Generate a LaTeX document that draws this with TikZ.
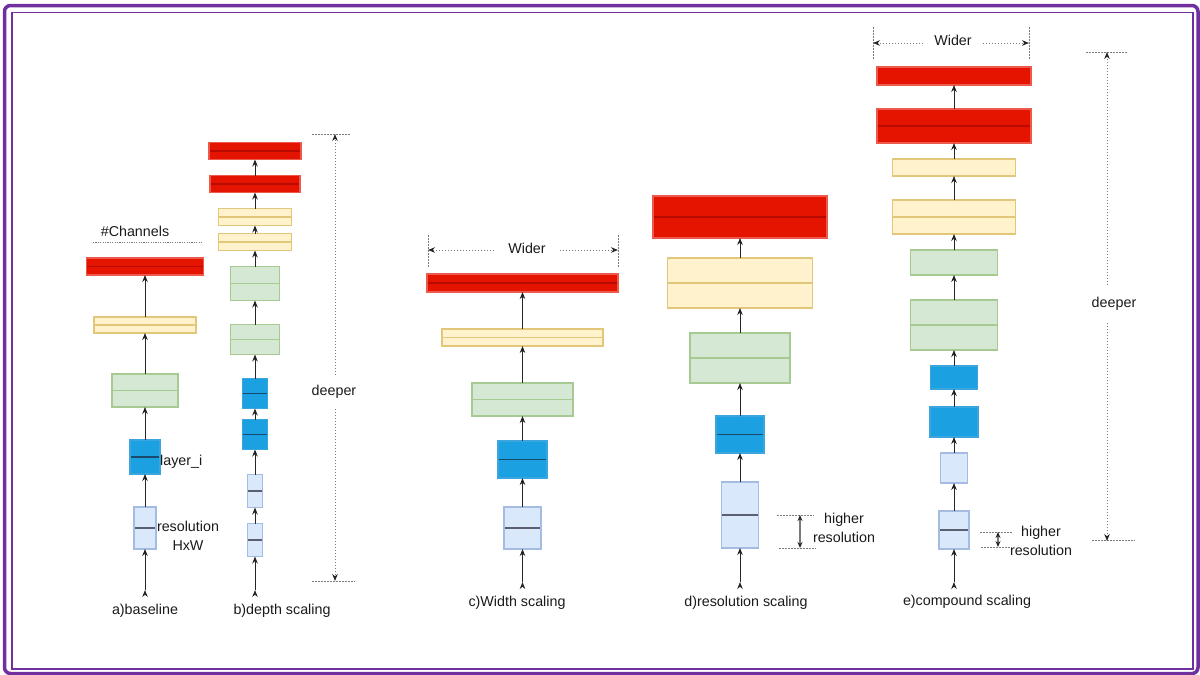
\documentclass[tikz,border=0pt]{standalone}
\usepackage{fontspec}
\setmainfont{Liberation Sans}
\usetikzlibrary{arrows.meta,positioning}

\definecolor{frame}{HTML}{7030A0}
\definecolor{redfill}{HTML}{E51400}
\definecolor{redline}{HTML}{EC5A4C}
\definecolor{reddark}{HTML}{B80A00}
\definecolor{ylwfill}{HTML}{FFF2CC}
\definecolor{ylwline}{HTML}{E2C77A}
\definecolor{grnfill}{HTML}{D5E8D4}
\definecolor{grnline}{HTML}{A6CA92}
\definecolor{bluefill}{HTML}{1BA1E2}
\definecolor{blueline}{HTML}{3BA6DE}
\definecolor{bluemid}{HTML}{1A4A6A}
\definecolor{resfill}{HTML}{DAE8FC}
\definecolor{resline}{HTML}{A4BCE2}
\definecolor{resmid}{HTML}{5A6070}
\definecolor{arrgray}{HTML}{262626}
\definecolor{guidegray}{HTML}{7A7A7A}
\definecolor{txt}{HTML}{1A1A1A}

\begin{document}
\begin{tikzpicture}[x=1pt,y=-1pt,font=\fontsize{14.3}{19}\selectfont,>={Stealth[length=7pt,width=5.5pt]}]
  \tikzstyle{box}=[rectangle,inner sep=0pt,outer sep=0pt,line width=1.2pt]
  \tikzstyle{redbox}=[box,fill=redfill,draw=redline]
  \tikzstyle{ylwbox}=[box,fill=ylwfill,draw=ylwline]
  \tikzstyle{grnbox}=[box,fill=grnfill,draw=grnline]
  \tikzstyle{bluebox}=[box,fill=bluefill,draw=blueline]
  \tikzstyle{resbox}=[box,fill=resfill,draw=resline]
  \tikzset{cut/.style={path picture={\draw[#1,line width=1.2pt] (path picture bounding box.west) -- (path picture bounding box.east);}}}
  \tikzstyle{arr}=[->,draw=arrgray,line width=0.8pt]
  \tikzstyle{guide}=[draw=guidegray,line width=0.9pt,dash pattern=on 1.5pt off 1.5pt]
  \tikzstyle{garr}=[guide,-{Stealth[length=7pt,width=5.5pt,color=arrgray]}]
  \tikzstyle{twoway}=[draw=guidegray,{Stealth[length=6pt,width=5pt,color=arrgray]}-{Stealth[length=6pt,width=5pt,color=arrgray]}]
  \tikzstyle{lbl}=[inner sep=0pt,text=txt]

  \useasboundingbox (0,0) rectangle (1200,675);
  \draw[draw=frame,line width=3.5pt,rounded corners=6pt] (4.5,5.5) rectangle (1198,673.5);
  \draw[draw=frame,line width=1.5pt] (12,12.5) rectangle (1193,669);

  % a) baseline
  \begin{scope}
    \coordinate (a0) at (145,590);
    \node[resbox,cut=resmid,minimum width=22pt,minimum height=42pt] (a1) at (145,528) {};
    \node[bluebox,cut=bluemid,minimum width=30pt,minimum height=34pt,above=33pt of a1] (a2) {};
    \node[grnbox,cut=grnline,minimum width=66pt,minimum height=33pt,above=33pt of a2] (a3) {};
    \node[ylwbox,cut=ylwline,minimum width=102pt,minimum height=16pt,above=41pt of a3] (a4) {};
    \node[redbox,cut=reddark,minimum width=117pt,minimum height=17pt,above=42pt of a4] (a5) {};

    \node[lbl] (chn) at (135,231) {\#Channels};
    \draw[guide,line width=0.7pt,dash pattern=on 1.2pt off 1.2pt] (93,242) -- (202,242);
    \node[lbl,anchor=west] (lyr) at (160,462) {layer\_i};
    \node[lbl,align=center] (res) at (188,536) {resolution\\HxW};
    \node[lbl] (acap) at (145,611) {a)baseline};

    \path[arr]
    (a0) edge (a1)
    (a1) edge (a2)
    (a2) edge (a3)
    (a3) edge (a4)
    (a4) edge (a5);
  \end{scope}

  % b) depth scaling
  \begin{scope}
    \coordinate (b0) at (255,590);
    \node[resbox,cut=resmid,minimum width=15pt,minimum height=33pt] (b1) at (255,540) {};
    \node[resbox,cut=resmid,minimum width=15pt,minimum height=33pt,above=16pt of b1] (b2) {};
    \node[bluebox,cut=bluemid,minimum width=25pt,minimum height=30pt,above=25pt of b2] (b3) {};
    \node[bluebox,cut=bluemid,minimum width=25pt,minimum height=30pt,above=11pt of b3] (b4) {};
    \node[grnbox,cut=grnline,minimum width=49pt,minimum height=30pt,above=24pt of b4] (b5) {};
    \node[grnbox,cut=grnline,minimum width=49pt,minimum height=34pt,above=24pt of b5] (b6) {};
    \node[ylwbox,cut=ylwline,minimum width=73pt,minimum height=17pt,above=16pt of b6] (b7) {};
    \node[ylwbox,cut=ylwline,minimum width=73pt,minimum height=17pt,above=8pt of b7] (b8) {};
    \node[redbox,cut=reddark,minimum width=90pt,minimum height=17pt,above=16pt of b8] (b9) {};
    \node[redbox,cut=reddark,minimum width=92pt,minimum height=17pt,above=16pt of b9] (b10) {};

    \node[lbl,inner ysep=10pt] (bdeep) at (334,392) {deeper};
    \coordinate (btop) at (335,134);
    \coordinate (bbot) at (335,581);
    \draw[guide] (312,134) -- (350,134);
    \draw[guide] (312,581) -- (355,581);
    \draw[garr] (bdeep.north -| btop) -- (btop);
    \draw[garr] (bdeep.south -| bbot) -- (bbot);
    \node[lbl] (bcap) at (282,611) {b)depth scaling};

    \path[arr]
    (b0) edge (b1)
    (b1) edge (b2)
    (b2) edge (b3)
    (b3) edge (b4)
    (b4) edge (b5)
    (b5) edge (b6)
    (b6) edge (b7)
    (b7) edge (b8)
    (b8) edge (b9)
    (b9) edge (b10);
  \end{scope}

  % c) width scaling
  \begin{scope}
    \coordinate (c0) at (522.5,582);
    \node[resbox,cut=resmid,minimum width=37pt,minimum height=42pt] (c1) at (522.5,528) {};
    \node[bluebox,cut=bluemid,minimum width=49pt,minimum height=37pt,above=29pt of c1] (c2) {};
    \node[grnbox,cut=grnline,minimum width=101pt,minimum height=33pt,above=25pt of c2] (c3) {};
    \node[ylwbox,cut=ylwline,minimum width=161pt,minimum height=17pt,above=37pt of c3] (c4) {};
    \node[redbox,cut=reddark,minimum width=191pt,minimum height=18pt,above=37pt of c4] (c5) {};

    \node[lbl,inner xsep=14pt] (cwid) at (527,248) {Wider};
    \coordinate (cwl) at (428,250);
    \coordinate (cwr) at (618,250);
    \draw[guide] (428,235) -- (428,267);
    \draw[guide] (618,235) -- (618,267);
    \draw[garr] (cwid.west |- cwl) -- (cwl);
    \draw[garr] (cwid.east |- cwr) -- (cwr);
    \node[lbl] (ccap) at (517,603) {c)Width scaling};

    \path[arr]
    (c0) edge (c1)
    (c1) edge (c2)
    (c2) edge (c3)
    (c3) edge (c4)
    (c4) edge (c5);
  \end{scope}

  % d) resolution scaling
  \begin{scope}
    \coordinate (d0) at (740,582);
    \node[resbox,cut=resmid,minimum width=37pt,minimum height=66pt] (d1) at (740,515) {};
    \node[bluebox,cut=bluemid,minimum width=48pt,minimum height=37pt,above=29pt of d1] (d2) {};
    \node[grnbox,cut=grnline,minimum width=100pt,minimum height=50pt,above=33pt of d2] (d3) {};
    \node[ylwbox,cut=ylwline,minimum width=145pt,minimum height=50pt,above=25pt of d3] (d4) {};
    \node[redbox,cut=reddark,minimum width=174pt,minimum height=42pt,above=20pt of d4] (d5) {};

    \coordinate (dhi) at (800,515);
    \coordinate (dlo) at (800,548);
    \draw[guide] (777,515) -- (814,515);
    \draw[guide] (779,548) -- (816,548);
    \draw[twoway,line width=1.6pt] (dhi) -- (dlo);
    \node[lbl,align=center] (dhr) at (844,528) {higher\\resolution};
    \node[lbl] (dcap) at (746,603) {d)resolution scaling};

    \path[arr]
    (d0) edge (d1)
    (d1) edge (d2)
    (d2) edge (d3)
    (d3) edge (d4)
    (d4) edge (d5);
  \end{scope}

  % e) compound scaling
  \begin{scope}
    \coordinate (e0) at (954,582);
    \node[resbox,cut=resmid,minimum width=30pt,minimum height=38pt] (e1) at (954,530) {};
    \node[resbox,minimum width=27pt,minimum height=30pt,above=28pt of e1] (e2) {};
    \node[bluebox,minimum width=48pt,minimum height=30pt,above=16pt of e2] (e3) {};
    \node[bluebox,minimum width=47pt,minimum height=23pt,above=18pt of e3] (e4) {};
    \node[grnbox,cut=grnline,minimum width=87pt,minimum height=50pt,above=16pt of e4] (e5) {};
    \node[grnbox,minimum width=87pt,minimum height=25pt,above=25pt of e5] (e6) {};
    \node[ylwbox,cut=ylwline,minimum width=123pt,minimum height=34pt,above=16pt of e6] (e7) {};
    \node[ylwbox,minimum width=123pt,minimum height=17pt,above=24pt of e7] (e8) {};
    \node[redbox,cut=reddark,minimum width=154pt,minimum height=34pt,above=16pt of e8] (e9) {};
    \node[redbox,minimum width=154pt,minimum height=18pt,above=24pt of e9] (e10) {};

    \node[lbl,inner xsep=11pt] (ewid) at (953,40) {Wider};
    \coordinate (ewl) at (873,43);
    \coordinate (ewr) at (1029,43);
    \draw[guide] (873,27) -- (873,60);
    \draw[guide] (1029,27) -- (1029,60);
    \draw[garr] (ewid.west |- ewl) -- (ewl);
    \draw[garr] (ewid.east |- ewr) -- (ewr);

    \node[lbl,inner ysep=12pt] (edeep) at (1114,304) {deeper};
    \coordinate (etop) at (1107,52);
    \coordinate (ebot) at (1107,541);
    \draw[guide] (1086,52) -- (1127,52);
    \draw[guide] (1092,540) -- (1135,540);
    \draw[garr] (edeep.north -| etop) -- (etop);
    \draw[garr] (edeep.south -| ebot) -- (ebot);

    \coordinate (ehi) at (998,532);
    \coordinate (elo) at (998,547);
    \draw[guide] (980,532) -- (1013,532);
    \draw[guide] (981,547) -- (1010,547);
    \draw[twoway,line width=1.2pt] (ehi) -- (elo);
    \node[lbl,align=center] (ehr) at (1041,541) {higher\\resolution};
    \node[lbl] (ecap) at (967,602) {e)compound scaling};

    \path[arr]
    (e0) edge (e1)
    (e1) edge (e2)
    (e2) edge (e3)
    (e3) edge (e4)
    (e4) edge (e5)
    (e5) edge (e6)
    (e6) edge (e7)
    (e7) edge (e8)
    (e8) edge (e9)
    (e9) edge (e10);
  \end{scope}
\end{tikzpicture}
\end{document}
